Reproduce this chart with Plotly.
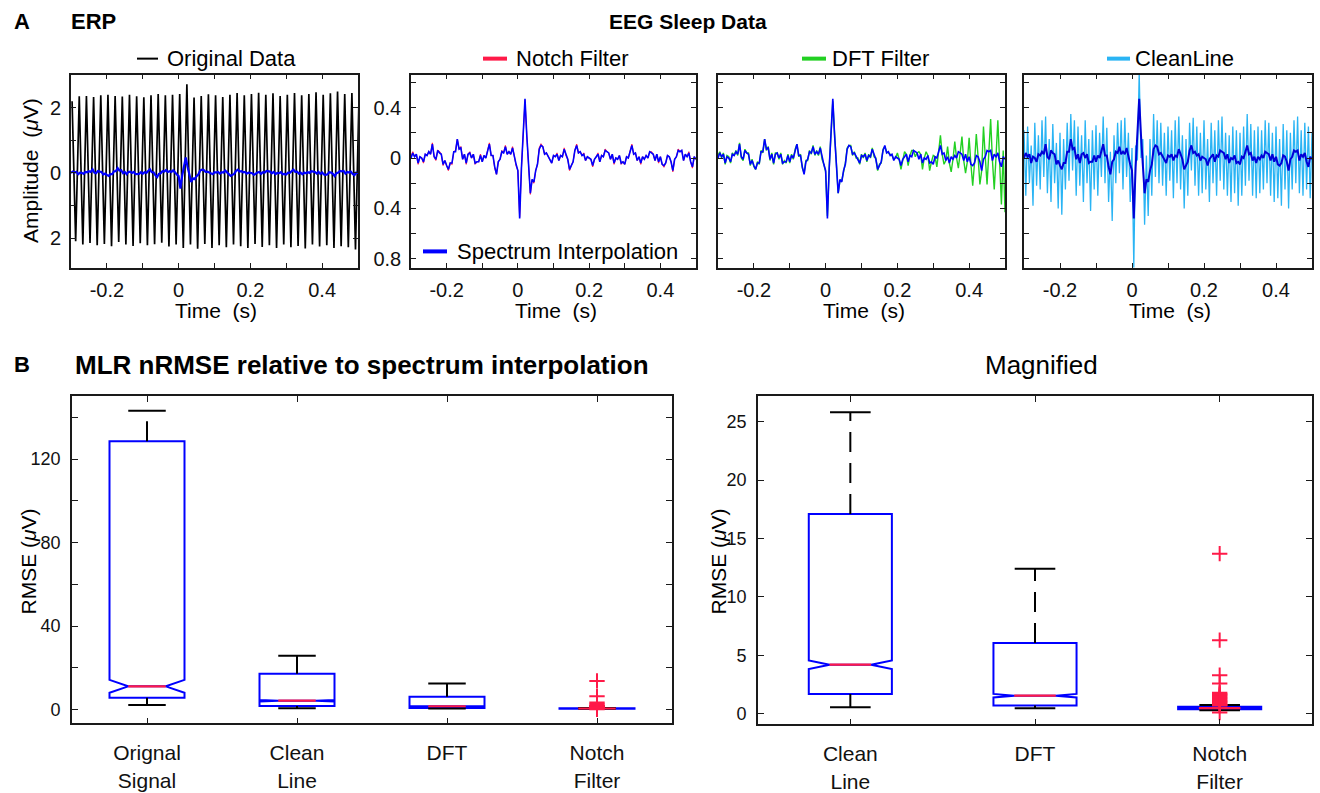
import numpy as np
import plotly.graph_objects as go

W, H = 1320, 793

# ---------------- data ----------------
# ERP time axis: 5 ms sampling from -0.3 s to 0.5 s
erp_time = np.linspace(-0.3, 0.5, 161)

spectrum_interp = [
    0.00, 0.04, 0.01, 0.03, -0.04, 0.01, 0.00, -0.03, 0.03, 0.02,
    0.05, 0.03, 0.11, 0.01, -0.01, 0.06, 0.04, 0.03, -0.05, -0.02,
    -0.06, -0.09, -0.04, -0.04, 0.05, 0.05, 0.15, 0.07, 0.08, -0.01,
    0.03, -0.04, 0.03, 0.04, 0.00, 0.03, -0.04, -0.03, -0.03, 0.02,
    -0.03, 0.02, 0.00, 0.06, 0.11, 0.02, 0.02, -0.07, -0.13, -0.03,
    -0.01, 0.05, 0.04, 0.09, 0.03, 0.05, 0.03, 0.08, 0.00, -0.05,
    -0.10, -0.48, -0.08, 0.18, 0.47, 0.18, -0.10, -0.28, -0.17, -0.19,
    -0.10, -0.05, 0.07, 0.10, 0.09, 0.03, 0.04, 0.01, -0.01, -0.04,
    0.02, 0.01, 0.03, -0.02, 0.02, 0.01, 0.07, 0.02, -0.01, -0.09,
    -0.06, -0.03, 0.06, 0.10, 0.04, 0.05, 0.02, 0.03, -0.02, 0.01,
    0.00, -0.01, -0.06, -0.01, 0.01, 0.03, -0.03, 0.02, 0.01, 0.06,
    0.05, 0.04, -0.01, 0.03, -0.04, 0.00, -0.01, 0.02, -0.04, -0.03,
    -0.05, 0.01, 0.00, 0.05, 0.10, 0.03, 0.04, -0.02, 0.01, -0.04,
    0.01, -0.01, 0.02, 0.00, 0.05, 0.04, 0.03, -0.02, 0.03, -0.03,
    0.01, -0.05, -0.06, -0.04, 0.02, 0.01, -0.03, -0.10, -0.01, 0.01,
    0.06, 0.05, 0.06, -0.02, 0.03, 0.01, 0.04, -0.03, -0.07, 0.01, -0.01,
]

notch_filter = [
    0.01, 0.05, 0.01, 0.03, -0.05, 0.01, 0.00, -0.04, 0.03, 0.02,
    0.05, 0.03, 0.12, 0.01, -0.02, 0.06, 0.05, 0.03, -0.06, -0.02,
    -0.06, -0.10, -0.04, -0.05, 0.05, 0.06, 0.15, 0.07, 0.09, -0.01,
    0.03, -0.05, 0.03, 0.05, 0.00, 0.03, -0.05, -0.03, -0.03, 0.03,
    -0.03, 0.02, 0.00, 0.07, 0.12, 0.02, 0.02, -0.08, -0.13, -0.03,
    -0.01, 0.06, 0.04, 0.10, 0.03, 0.05, 0.03, 0.09, 0.00, -0.06,
    -0.10, -0.47, -0.08, 0.18, 0.46, 0.18, -0.10, -0.29, -0.17, -0.20,
    -0.10, -0.05, 0.08, 0.11, 0.09, 0.03, 0.04, 0.01, -0.02, -0.04,
    0.02, 0.01, 0.04, -0.02, 0.02, 0.01, 0.08, 0.02, -0.01, -0.10,
    -0.06, -0.03, 0.06, 0.11, 0.04, 0.05, 0.02, 0.04, -0.02, 0.01,
    0.00, -0.01, -0.07, -0.01, 0.01, 0.04, -0.03, 0.02, 0.01, 0.07,
    0.05, 0.04, -0.01, 0.03, -0.05, 0.00, -0.01, 0.02, -0.05, -0.03,
    -0.05, 0.01, 0.00, 0.05, 0.11, 0.03, 0.04, -0.02, 0.01, -0.05,
    0.01, -0.01, 0.02, 0.00, 0.05, 0.05, 0.03, -0.02, 0.03, -0.04,
    0.01, -0.05, -0.07, -0.04, 0.02, 0.01, -0.03, -0.11, -0.01, 0.01,
    0.07, 0.05, 0.06, -0.02, 0.03, 0.01, 0.05, -0.03, -0.08, 0.01, -0.01,
]

dft_filter = [
    0.02, 0.05, 0.00, 0.04, -0.05, 0.02, 0.01, -0.04, 0.04, 0.02,
    0.06, 0.02, 0.12, 0.00, -0.02, 0.07, 0.04, 0.04, -0.06, -0.01,
    -0.07, -0.09, -0.03, -0.05, 0.06, 0.04, 0.15, 0.06, 0.09, -0.02,
    0.04, -0.05, 0.04, 0.04, -0.01, 0.04, -0.05, -0.02, -0.04, 0.03,
    -0.04, 0.03, -0.01, 0.07, 0.11, 0.01, 0.03, -0.08, -0.12, -0.02,
    -0.02, 0.06, 0.03, 0.10, 0.02, 0.06, 0.02, 0.09, -0.01, -0.05,
    -0.11, -0.46, -0.08, 0.17, 0.45, 0.19, -0.09, -0.28, -0.18, -0.18,
    -0.11, -0.04, 0.08, 0.10, 0.10, 0.02, 0.05, 0.00, 0.00, -0.05,
    0.03, 0.00, 0.04, -0.03, 0.03, 0.00, 0.08, 0.01, 0.00, -0.10,
    -0.05, -0.04, 0.07, 0.09, 0.05, 0.04, 0.03, 0.02, -0.01, 0.00,
    0.04, -0.01, -0.09, -0.01, 0.05, 0.03, -0.06, 0.02, 0.06, 0.06,
    0.01, 0.04, 0.05, 0.03, -0.09, 0.00, 0.05, 0.02, -0.10, -0.03,
    0.02, 0.01, -0.07, 0.05, 0.18, 0.03, -0.05, -0.02, 0.09, -0.04,
    -0.11, -0.01, 0.13, 0.00, -0.08, 0.04, 0.17, -0.02, -0.12, -0.03,
    0.16, -0.05, -0.22, -0.04, 0.19, 0.01, -0.21, -0.10, 0.25, 0.01,
    -0.21, 0.05, 0.31, -0.02, -0.25, 0.01, 0.30, -0.03, -0.37, 0.06, -0.43,
]

clean_line = [
    0.22, -0.30, 0.25, -0.20, 0.10, -0.38, 0.28, -0.22, 0.18, -0.25,
    0.30, -0.15, 0.33, -0.28, 0.15, -0.35, 0.27, -0.20, 0.12, -0.40,
    0.20, -0.45, 0.15, -0.25, 0.28, -0.18, 0.35, -0.10, 0.30, -0.30,
    0.25, -0.22, 0.18, -0.35, 0.30, -0.20, 0.15, -0.42, 0.22, -0.25,
    0.26, -0.30, 0.20, -0.15, 0.33, -0.20, 0.24, -0.35, 0.05, -0.50,
    0.18, -0.20, 0.28, -0.12, 0.30, -0.25, 0.32, -0.15, 0.20, -0.35,
    0.08, -0.87, 0.10, -0.02, 0.68, 0.00, 0.15, -0.53, 0.02, -0.46,
    0.15, -0.30, 0.35, -0.15, 0.30, -0.20, 0.28, -0.22, 0.20, -0.30,
    0.25, -0.18, 0.22, -0.32, 0.30, -0.20, 0.33, -0.25, 0.18, -0.40,
    0.15, -0.30, 0.28, -0.10, 0.32, -0.22, 0.25, -0.30, 0.20, -0.28,
    0.30, -0.25, 0.15, -0.35, 0.28, -0.20, 0.22, -0.30, 0.30, -0.18,
    0.33, -0.25, 0.20, -0.30, 0.18, -0.35, 0.25, -0.28, 0.22, -0.38,
    0.20, -0.30, 0.25, -0.22, 0.35, -0.18, 0.27, -0.30, 0.22, -0.32,
    0.25, -0.28, 0.22, -0.25, 0.30, -0.20, 0.28, -0.30, 0.20, -0.35,
    0.25, -0.32, 0.15, -0.38, 0.27, -0.25, 0.22, -0.40, 0.20, -0.25,
    0.30, -0.20, 0.33, -0.28, 0.22, -0.30, 0.28, -0.25, 0.25, -0.32, 0.20,
]

# raw data with line noise: alternating crest / trough samples every 10 ms
orig_time = np.linspace(-0.297, 0.503, 81)
original_data = [
    2.20, -2.10, 2.35, -2.20, 2.36, -2.15, 2.33, -2.22, 2.38, -2.18,
    2.40, -2.25, 2.36, -2.12, 2.34, -2.20, 2.40, -2.24, 2.35, -2.16,
    2.32, -2.22, 2.38, -2.19, 2.42, -2.14, 2.38, -2.26, 2.40, -2.20,
    2.42, -2.30, 2.72, -2.20, 2.31, -2.33, 2.36, -2.18, 2.41, -2.30,
    2.38, -2.22, 2.33, -2.28, 2.40, -2.20, 2.45, -2.25, 2.38, -2.30,
    2.42, -2.18, 2.46, -2.27, 2.40, -2.22, 2.44, -2.30, 2.36, -2.20,
    2.40, -2.28, 2.45, -2.24, 2.38, -2.32, 2.42, -2.20, 2.47, -2.26,
    2.40, -2.22, 2.44, -2.30, 2.50, -2.25, 2.42, -2.28, 2.45, -2.35, 2.40,
]

# box-plot statistics (RMSE, uV)
box_labels_all = ["Orignal<br>Signal", "Clean<br>Line", "DFT", "Notch<br>Filter"]
box_q1 = [5.6, 1.7, 0.7, 0.38]
box_median = [11.1, 4.2, 1.55, 0.48]
box_q3 = [128.5, 17.1, 6.05, 0.60]
box_lower = [2.1, 0.55, 0.48, 0.30]
box_upper = [143.2, 25.8, 12.4, 0.75]
box_notch = [3.1, 0.37, 0.15, 0.04]
notch_outliers = [13.7, 6.3, 3.3, 2.6, 1.8, 1.7, 1.6, 1.5, 1.4, 1.3, 1.2,
                  1.1, 1.0, 0.9, 0.8, 0.75, 0.7, 0.1]

# ---------------- helpers ----------------
def X(px):
    return px / W

def Y(py):
    return 1 - py / H

FONT = "Liberation Sans, Arial, Helvetica, sans-serif"
BLUE = "#0000FF"
RED = "#FF1A48"
GREEN = "#22D022"
LBLUE = "#2AB4F4"
INK = "#1a1a1a"

fig = go.Figure()

def line(x, y, color, width, xa, ya):
    fig.add_trace(go.Scatter(x=x, y=y, mode="lines", line=dict(color=color, width=width),
                             xaxis=xa, yaxis=ya, showlegend=False, hoverinfo="skip"))

# panel 1
line(orig_time, original_data, "#000000", 1.7, "x", "y")
line(erp_time, spectrum_interp, BLUE, 2.2, "x", "y")
# panel 2
line(erp_time, notch_filter, RED, 1.1, "x2", "y2")
line(erp_time, spectrum_interp, BLUE, 1.6, "x2", "y2")
# panel 3
line(erp_time, dft_filter, GREEN, 1.4, "x3", "y3")
line(erp_time, spectrum_interp, BLUE, 1.6, "x3", "y3")
# panel 4
line(erp_time, clean_line, LBLUE, 1.3, "x4", "y4")
line(erp_time, spectrum_interp, "#0000D8", 2.0, "x4", "y4")

# ---------------- box plots ----------------
def boxpanel(idx, xa, ya, bw, capw):
    pos = list(range(1, len(idx) + 1))
    q1 = [box_q1[i] for i in idx]
    md = [box_median[i] for i in idx]
    q3 = [box_q3[i] for i in idx]
    lo = [box_lower[i] for i in idx]
    up = [box_upper[i] for i in idx]
    nt = [box_notch[i] for i in idx]
    # whiskers (dashed black)
    wx, wy = [], []
    for p, a, b, c, d in zip(pos, lo, q1, q3, up):
        wx += [p, p, None, p, p, None]
        wy += [c, d, None, b, a, None]
    fig.add_trace(go.Scatter(x=wx, y=wy, mode="lines",
                             line=dict(color="#000000", width=2, dash="20px,11px"),
                             xaxis=xa, yaxis=ya, showlegend=False, hoverinfo="skip"))
    # caps
    cx, cy = [], []
    for p, a, d in zip(pos, lo, up):
        cx += [p - capw / 2, p + capw / 2, None, p - capw / 2, p + capw / 2, None]
        cy += [d, d, None, a, a, None]
    fig.add_trace(go.Scatter(x=cx, y=cy, mode="lines", line=dict(color="#000000", width=2),
                             xaxis=xa, yaxis=ya, showlegend=False, hoverinfo="skip"))
    # notched boxes
    fig.add_trace(go.Box(x=pos, q1=q1, median=md, q3=q3, lowerfence=q1, upperfence=q3,
                         notchspan=nt, notched=True, notchwidth=0.25, width=bw, whiskerwidth=0,
                         line=dict(color=BLUE, width=2), fillcolor="rgba(255,255,255,0)",
                         boxpoints=False, xaxis=xa, yaxis=ya, showlegend=False, hoverinfo="skip"))
    # red medians
    mx, my = [], []
    for p, m in zip(pos, md):
        mx += [p - bw / 4, p + bw / 4, None]
        my += [m, m, None]
    fig.add_trace(go.Scatter(x=mx, y=my, mode="lines", line=dict(color=RED, width=2.2),
                             xaxis=xa, yaxis=ya, showlegend=False, hoverinfo="skip"))
    # outliers of the notch filter
    fig.add_trace(go.Scatter(x=[pos[-1]] * len(notch_outliers), y=notch_outliers, mode="markers",
                             marker=dict(symbol="cross-thin", size=11, line=dict(color=RED, width=2)),
                             xaxis=xa, yaxis=ya, showlegend=False, hoverinfo="skip",
                             cliponaxis=True))

boxpanel([0, 1, 2, 3], "x5", "y5", 0.5, 0.25)
boxpanel([1, 2, 3], "x6", "y6", 0.45, 0.22)

# ---------------- axes ----------------
def ax(**kw):
    d = dict(showline=True, mirror="ticks", linecolor=INK, linewidth=1.6,
             ticks="inside", ticklen=5, tickwidth=1.3, tickcolor=INK,
             showgrid=False, zeroline=False,
             tickfont=dict(family=FONT, size=20, color="#111111"))
    d.update(kw)
    return d

time_vals = [-0.3, -0.2, -0.1, 0.0, 0.1, 0.2, 0.3, 0.4, 0.5]
time_text = ["", "-0.2", "", "0", "", "0.2", "", "0.4", ""]
top_y = [75, 270]
tops = [(71, 358), (411, 696), (718, 1005), (1024, 1312)]
ydom_top = [Y(top_y[1]), Y(top_y[0])]

layout_axes = {}
for k, (x0, x1) in enumerate(tops):
    sfx = "" if k == 0 else str(k + 1)
    layout_axes["xaxis" + sfx] = ax(domain=[X(x0), X(x1)], anchor="y" + sfx,
                                    range=[-0.3, 0.5], tickvals=time_vals, ticktext=time_text,
                                    ticklabelstandoff=3)
layout_axes["yaxis"] = ax(domain=ydom_top, anchor="x", range=[-2.927, 3.018],
                          tickvals=[-2, -1, 0, 1, 2], ticktext=["2", "", "0", "", "2"],
                          ticklabelstandoff=4)
erp_yvals = [-0.8, -0.6, -0.4, -0.2, 0.0, 0.2, 0.4, 0.6]
erp_ytext = ["0.8", "", "0.4", "", "0", "", "0.4", ""]
for k in (2, 3, 4):
    layout_axes["yaxis%d" % k] = ax(domain=ydom_top, anchor="x%d" % k, range=[-0.876, 0.663],
                                    tickvals=erp_yvals, ticktext=erp_ytext,
                                    showticklabels=(k == 2), ticklabelstandoff=4)

bot_y = [1 - 728 / H, 1 - 399 / H]
layout_axes["xaxis5"] = ax(domain=[X(72), X(672)], anchor="y5", range=[0.5, 4.5],
                           tickvals=[1, 2, 3, 4], ticktext=box_labels_all, ticklen=6,
                           tickfont=dict(family=FONT, size=21, color="#111111"),
                           ticklabelstandoff=10)
layout_axes["yaxis5"] = ax(domain=bot_y, anchor="x5", range=[-6.67, 150],
                           tickvals=[0, 20, 40, 60, 80, 100, 120, 140],
                           ticktext=["0", "", "40", "", "80", "", "120", ""], ticklen=6,
                           tickfont=dict(family=FONT, size=18, color="#111111"),
                           ticklabelstandoff=6)
layout_axes["xaxis6"] = ax(domain=[X(758), X(1312)], anchor="y6", range=[0.5, 3.5],
                           tickvals=[1, 2, 3], ticktext=box_labels_all[1:], ticklen=6,
                           tickfont=dict(family=FONT, size=21, color="#111111"),
                           ticklabelstandoff=10)
layout_axes["yaxis6"] = ax(domain=[1 - 729 / H, 1 - 399 / H], anchor="x6", range=[-0.91, 27.15],
                           tickvals=[0, 5, 10, 15, 20, 25], ticklen=6,
                           tickfont=dict(family=FONT, size=18, color="#111111"),
                           ticklabelstandoff=6)

# ---------------- annotations / legend marks ----------------
ann = []
shapes = []

def text(px, py, s, size, bold=False, xanchor="left", angle=0):
    ann.append(dict(x=X(px), y=Y(py), xref="paper", yref="paper", text=("<b>%s</b>" % s) if bold else s,
                    showarrow=False, xanchor=xanchor, yanchor="middle", textangle=angle,
                    font=dict(family=FONT, size=size, color="#000000")))

def legline(x0, x1, py, color, width):
    shapes.append(dict(type="line", xref="paper", yref="paper", x0=X(x0), x1=X(x1),
                       y0=Y(py), y1=Y(py), line=dict(color=color, width=width)))

text(12, 22, "A", 22, bold=True)
text(69, 22, "ERP", 22, bold=True)
text(688, 22, "EEG Sleep Data", 21, bold=True, xanchor="center")

legline(137, 158, 59, "#000000", 2)
text(165, 59, "Original Data", 22)
legline(483, 507, 59, RED, 4)
text(514, 59, "Notch Filter", 22)
legline(802, 826, 59, GREEN, 4)
text(830, 59, "DFT Filter", 22)
legline(1107, 1130, 59, LBLUE, 4)
text(1133, 59, "CleanLine", 22)
legline(423, 447, 253, BLUE, 4)
text(455, 253, "Spectrum Interpolation", 22)

for (x0, x1) in tops:
    text((x0 + x1) / 2 + 2, 312, "Time  (s)", 21, xanchor="center")
text(31, 172, "Amplitude  (<i>μ</i>V)", 21, xanchor="center", angle=-90)

text(12, 367, "B", 22, bold=True)
text(73, 367, "MLR nRMSE relative to spectrum interpolation", 26, bold=True)
text((758 + 1312) / 2 + 6, 367, "Magnified", 26, xanchor="center")
text(28, 565, "RMSE (<i>μ</i>V)", 21, xanchor="center", angle=-90)
text(718, 565, "RMSE (<i>μ</i>V)", 21, xanchor="center", angle=-90)

fig.update_layout(
    width=W, height=H,
    margin=dict(l=0, r=0, t=0, b=0),
    paper_bgcolor="white", plot_bgcolor="white",
    showlegend=False,
    annotations=ann, shapes=shapes,
    font=dict(family=FONT, color="#111111"),
    boxmode="overlay",
    **layout_axes,
)

fig.write_html("out.html",
               config=dict(displayModeBar=False),
               post_script="document.body.style.margin='0px';document.body.style.overflow='hidden';")
